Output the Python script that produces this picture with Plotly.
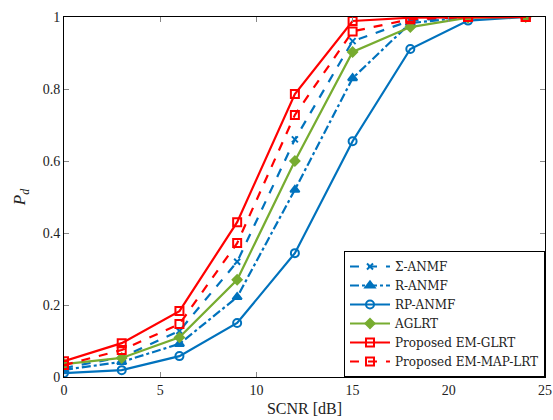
import plotly.graph_objects as go

snr = [0, 3, 6, 9, 12, 15, 18, 21, 24]
sigma_anmf = [0.025, 0.055, 0.128, 0.32, 0.66, 0.933, 0.99, 1.0, 1.0]
r_anmf = [0.02, 0.042, 0.092, 0.222, 0.52, 0.83, 0.983, 1.0, 1.0]
rp_anmf = [0.011, 0.019, 0.058, 0.15, 0.344, 0.655, 0.911, 0.99, 1.0]
aglrt = [0.036, 0.053, 0.11, 0.27, 0.6, 0.903, 0.972, 0.998, 1.0]
em_glrt = [0.044, 0.094, 0.183, 0.43, 0.786, 0.989, 0.998, 1.0, 1.0]
em_map = [0.033, 0.075, 0.147, 0.372, 0.728, 0.96, 0.994, 1.0, 1.0]

BLUE = "#0072BD"
GREEN = "#77AC30"
RED = "#FF0000"

series = [
    ("Σ-ANMF", sigma_anmf, BLUE, "dash", "x-thin-open", 6),
    ("R-ANMF", r_anmf, BLUE, "dashdot", "triangle-up", 8),
    ("RP-ANMF", rp_anmf, BLUE, "solid", "circle-open", 8),
    ("AGLRT", aglrt, GREEN, "solid", "diamond", 7),
    ("Proposed EM-GLRT", em_glrt, RED, "solid", "square-open", 8),
    ("Proposed EM-MAP-LRT", em_map, RED, "dash", "square-open", 8),
]

fig = go.Figure()
for name, y, c, dash, sym, sz in series:
    fig.add_trace(go.Scatter(
        x=snr, y=y, name=name, mode="lines+markers",
        line=dict(color=c, width=2.2, dash=dash),
        marker=dict(symbol=sym, size=sz, color=c, line=dict(color=c, width=2)),
    ))

font = "Liberation Serif, DejaVu Serif, serif"
axis_common = dict(
    showgrid=False, zeroline=False, showline=True, linecolor="black", linewidth=1,
    mirror="ticks", ticks="inside", ticklen=5, tickcolor="#888888",
    tickfont=dict(family=font, size=14, color="#222"),
)
fig.update_layout(
    width=553, height=420,
    margin=dict(l=64, r=8, t=17, b=43),
    paper_bgcolor="white", plot_bgcolor="white",
    font=dict(family=font, color="#222"),
    showlegend=True,
    legend=dict(
        x=1.0, y=0.0, xanchor="right", yanchor="bottom",
        bgcolor="white", bordercolor="black", borderwidth=1,
        font=dict(family="DejaVu Serif, serif", size=12, color="#222"),
        tracegroupgap=0, itemwidth=40,
    ),
)
fig.update_xaxes(range=[0, 25], tickvals=[0, 5, 10, 15, 20, 25],
                 title=dict(text="SCNR [dB]", font=dict(family=font, size=16), standoff=6),
                 automargin=False, **axis_common)
fig.update_yaxes(range=[0, 1], tickvals=[0, 0.2, 0.4, 0.6, 0.8, 1],
                 ticktext=["0", "0.2", "0.4", "0.6", "0.8", "1"],
                 title=dict(text="<i>P</i><sub><i>d</i></sub>", font=dict(family=font, size=17), standoff=12),
                 automargin=False, **axis_common)

fig.write_html("out.html")
